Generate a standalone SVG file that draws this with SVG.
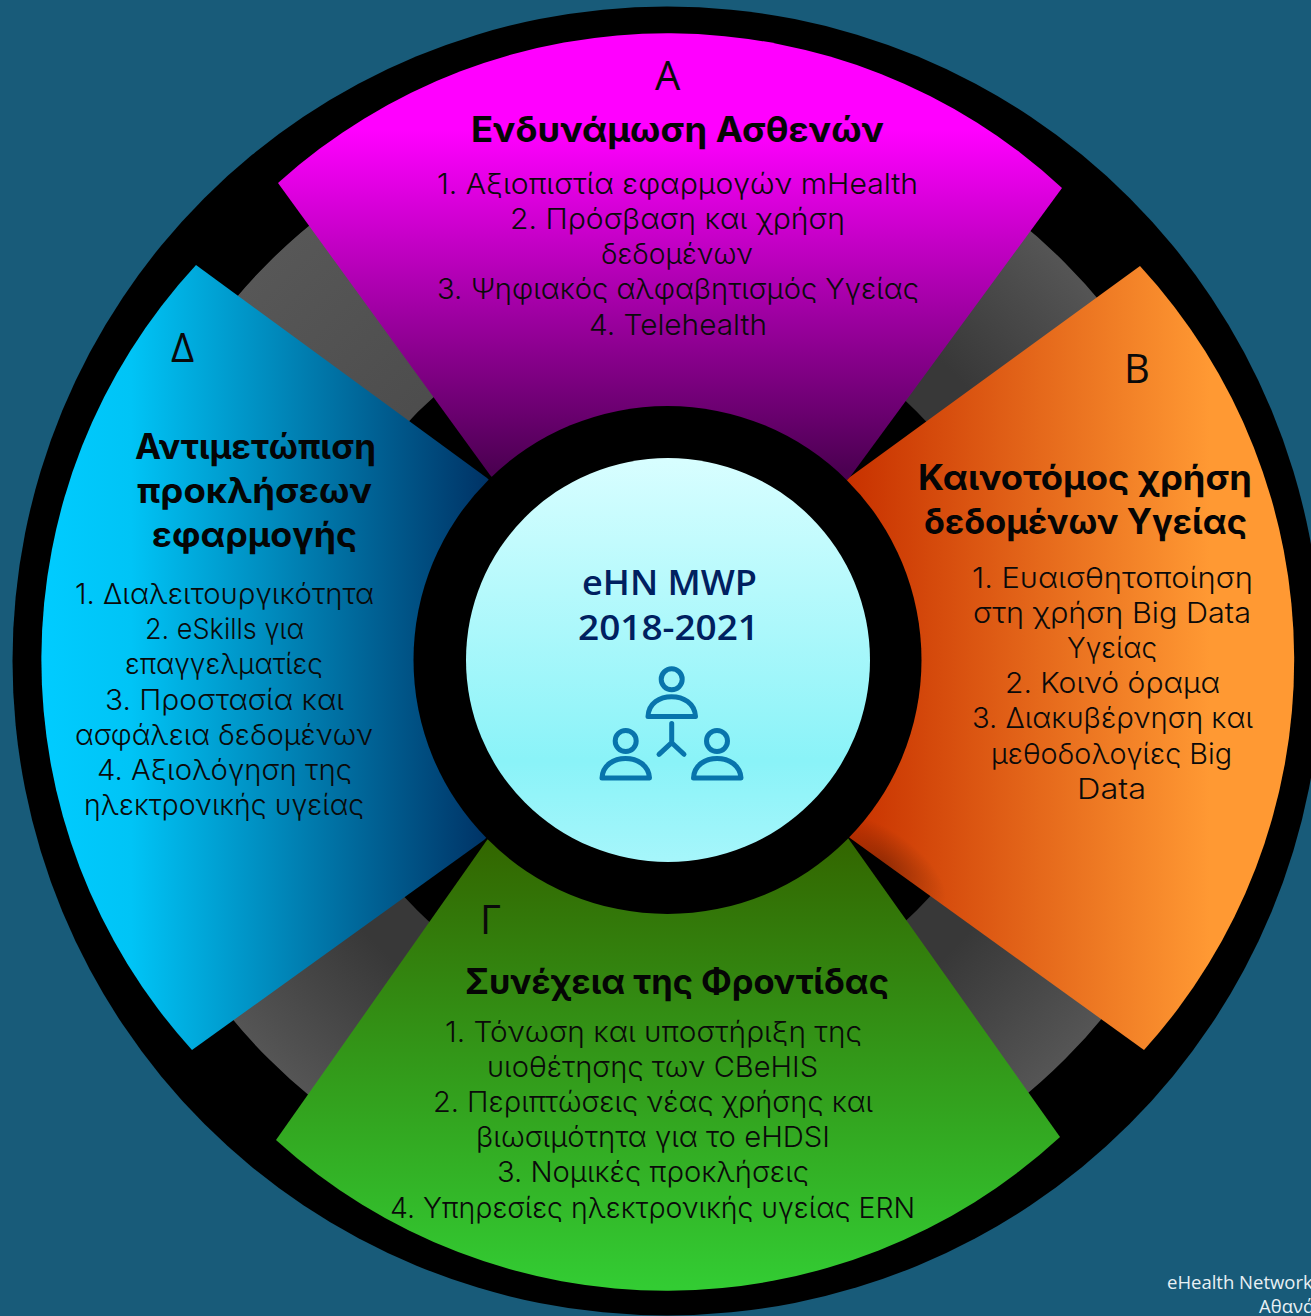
<svg xmlns="http://www.w3.org/2000/svg" width="1311" height="1316" viewBox="0 0 1311 1316">
<style>
.li{font-family:Inter,"Noto Sans",sans-serif;font-weight:300;font-size:29px;fill:#0a0a0a}
.ti{font-family:Inter,"Noto Sans",sans-serif;font-weight:700;font-size:35px;fill:#050505}
.let{font-family:"Open Sans","Noto Sans",sans-serif;font-size:40px;fill:#0a0a0a}
.ce{font-family:"Open Sans","Noto Sans",sans-serif;font-weight:600;font-size:35px;fill:#002060}
.ft{font-family:"Open Sans","Noto Sans",sans-serif;font-size:18.500px;fill:#e8f0f4}
.ic{fill:none;stroke:#0874ac;stroke-width:5;stroke-linecap:round;stroke-linejoin:round}
</style>
<defs>
<linearGradient id="gP" gradientUnits="userSpaceOnUse" x1="0" y1="130" x2="0" y2="470"><stop offset="0" stop-color="#ff00ff"/><stop offset="1" stop-color="#4c0052"/></linearGradient>
<linearGradient id="gO" gradientUnits="userSpaceOnUse" x1="850" y1="0" x2="1210" y2="0"><stop offset="0" stop-color="#c83200"/><stop offset="1" stop-color="#ff9933"/></linearGradient>
<linearGradient id="gG" gradientUnits="userSpaceOnUse" x1="0" y1="1287" x2="0" y2="840"><stop offset="0" stop-color="#33cc33"/><stop offset="1" stop-color="#336600"/></linearGradient>
<linearGradient id="gB" gradientUnits="userSpaceOnUse" x1="42" y1="0" x2="487" y2="0"><stop offset="0" stop-color="#00ccff"/><stop offset="0.2" stop-color="#00c4f6"/><stop offset="1" stop-color="#003366"/></linearGradient>
<linearGradient id="gC" x1="0" y1="0" x2="0" y2="1"><stop offset="0" stop-color="#d8feff"/><stop offset="0.75" stop-color="#8af3f8"/><stop offset="1" stop-color="#a6f6fb"/></linearGradient>
<radialGradient id="gR" gradientUnits="userSpaceOnUse" cx="667" cy="661" r="563"><stop offset="0.72" stop-color="#383838"/><stop offset="1" stop-color="#555555"/></radialGradient>
<radialGradient id="gT" gradientUnits="userSpaceOnUse" cx="667" cy="661" r="563"><stop offset="0.6" stop-color="#4c4c4c"/><stop offset="1" stop-color="#575757"/></radialGradient>
<radialGradient id="gS" gradientUnits="userSpaceOnUse" cx="0" cy="0" r="1" gradientTransform="translate(885 864) rotate(36) scale(72 32)"><stop offset="0" stop-color="#000" stop-opacity="0.28"/><stop offset="1" stop-color="#000" stop-opacity="0"/></radialGradient>
</defs>
<rect width="1311" height="1316" fill="#185b79"/>
<g id="ring">
<circle cx="667" cy="661" r="654.500" fill="#000"/>
<circle cx="667" cy="661" r="458" fill="none" stroke="url(#gR)" stroke-width="210"/>
<path d="M179 379A563 563 0 0 1 385.500 173L491 356A353 353 0 0 0 362 485Z" fill="url(#gT)"/>
</g>
<g id="connectors"/>
<g id="sector-a">
<path d="M278 183A581 581 0 0 1 1062 188L850 477L667 660L490 475Z" fill="url(#gP)"/>
</g>
<g id="sector-b">
<path d="M1140 266A581 581 0 0 1 1144 1050L850 838L667 660L850 477Z" fill="url(#gO)"/>
<path d="M1140 266A581 581 0 0 1 1144 1050L850 838L667 660L850 477Z" fill="url(#gS)"/>
</g>
<g id="sector-c">
<path d="M276 1140L487 840L667 660L848 838L1060 1137A581 581 0 0 1 276 1140Z" fill="url(#gG)"/>
</g>
<g id="sector-d">
<path d="M196 265L487 478L667 660L484 840L192 1050A581 581 0 0 1 196 265Z" fill="url(#gB)"/>
</g>
<g id="hub">
<circle cx="667.500" cy="660" r="254" fill="#000"/>
<circle cx="668" cy="660" r="202" fill="url(#gC)"/>
<text class="ce" x="582" y="595" textLength="175" lengthAdjust="spacingAndGlyphs">eHN MWP</text>
<text class="ce" x="578" y="640" textLength="181" lengthAdjust="spacingAndGlyphs">2018-2021</text>
<g class="ic">
<circle cx="671.700" cy="679.300" r="10.500"/>
<path d="M648 716.500C649 690 694 690 695.500 716.500Z"/>
<circle cx="625.700" cy="741" r="10.500"/>
<path d="M602 778C603 752 648 752 649.500 778Z"/>
<circle cx="717" cy="741" r="10.500"/>
<path d="M693.500 778C694.500 752 739.500 752 741 778Z"/>
<path d="M671.700 723.500V742.700M659 754.300L671.700 742.700L684 754.300"/>
</g>
</g>
<g id="text-a">
<text class="let" x="655" y="90">Α</text>
<text class="ti" x="471" y="142" textLength="413" lengthAdjust="spacingAndGlyphs">Ενδυνάμωση Ασθενών</text>
<text class="li" x="437" y="194" textLength="481" lengthAdjust="spacingAndGlyphs">1. Αξιοπιστία εφαρμογών mHealth</text>
<text class="li" x="510" y="229" textLength="335" lengthAdjust="spacingAndGlyphs">2. Πρόσβαση και χρήση</text>
<text class="li" x="601" y="264" textLength="152" lengthAdjust="spacingAndGlyphs">δεδομένων</text>
<text class="li" x="437" y="299" textLength="482" lengthAdjust="spacingAndGlyphs">3. Ψηφιακός αλφαβητισμός Υγείας</text>
<text class="li" x="589" y="335" textLength="178" lengthAdjust="spacingAndGlyphs">4. Telehealth</text>
</g>
<g id="text-b">
<text class="let" x="1124" y="383">Β</text>
<text class="ti" x="918" y="490" textLength="334" lengthAdjust="spacingAndGlyphs">Καινοτόμος χρήση</text>
<text class="ti" x="924" y="534" textLength="323" lengthAdjust="spacingAndGlyphs">δεδομένων Υγείας</text>
<text class="li" x="972" y="588" textLength="281" lengthAdjust="spacingAndGlyphs">1. Ευαισθητοποίηση</text>
<text class="li" x="973" y="623" textLength="278" lengthAdjust="spacingAndGlyphs">στη χρήση Big Data</text>
<text class="li" x="1067" y="658" textLength="90" lengthAdjust="spacingAndGlyphs">Υγείας</text>
<text class="li" x="1005" y="693" textLength="215" lengthAdjust="spacingAndGlyphs">2. Κοινό όραμα</text>
<text class="li" x="972" y="728" textLength="281" lengthAdjust="spacingAndGlyphs">3. Διακυβέρνηση και</text>
<text class="li" x="991" y="764" textLength="241" lengthAdjust="spacingAndGlyphs">μεθοδολογίες Big</text>
<text class="li" x="1077" y="799" textLength="69" lengthAdjust="spacingAndGlyphs">Data</text>
</g>
<g id="text-c">
<text class="let" x="480" y="934">Γ</text>
<text class="ti" x="465" y="994" textLength="424" lengthAdjust="spacingAndGlyphs">Συνέχεια της Φροντίδας</text>
<text class="li" x="445" y="1042" textLength="417" lengthAdjust="spacingAndGlyphs">1. Τόνωση και υποστήριξη της</text>
<text class="li" x="487" y="1077" textLength="331" lengthAdjust="spacingAndGlyphs">υιοθέτησης των CBeHIS</text>
<text class="li" x="433" y="1112" textLength="440" lengthAdjust="spacingAndGlyphs">2. Περιπτώσεις νέας χρήσης και</text>
<text class="li" x="476" y="1147" textLength="354" lengthAdjust="spacingAndGlyphs">βιωσιμότητα για το eHDSI</text>
<text class="li" x="497" y="1182" textLength="312" lengthAdjust="spacingAndGlyphs">3. Νομικές προκλήσεις</text>
<text class="li" x="390" y="1218" textLength="525" lengthAdjust="spacingAndGlyphs">4. Υπηρεσίες ηλεκτρονικής υγείας ERN</text>
</g>
<g id="text-d">
<text class="let" x="171" y="362">Δ</text>
<text class="ti" x="135" y="459" textLength="241" lengthAdjust="spacingAndGlyphs">Αντιμετώπιση</text>
<text class="ti" x="137" y="503" textLength="235" lengthAdjust="spacingAndGlyphs">προκλήσεων</text>
<text class="ti" x="152" y="547" textLength="205" lengthAdjust="spacingAndGlyphs">εφαρμογής</text>
<text class="li" x="75" y="604" textLength="299" lengthAdjust="spacingAndGlyphs">1. Διαλειτουργικότητα</text>
<text class="li" x="145" y="639" textLength="159" lengthAdjust="spacingAndGlyphs">2. eSkills για</text>
<text class="li" x="125" y="674" textLength="198" lengthAdjust="spacingAndGlyphs">επαγγελματίες</text>
<text class="li" x="105" y="710" textLength="239" lengthAdjust="spacingAndGlyphs">3. Προστασία και</text>
<text class="li" x="75" y="745" textLength="298" lengthAdjust="spacingAndGlyphs">ασφάλεια δεδομένων</text>
<text class="li" x="97" y="780" textLength="255" lengthAdjust="spacingAndGlyphs">4. Αξιολόγηση της</text>
<text class="li" x="84" y="815" textLength="280" lengthAdjust="spacingAndGlyphs">ηλεκτρονικής υγείας</text>
</g>
<g id="footer">
<text class="ft" x="1167" y="1289">eHealth Network</text>
<text class="ft" x="1259" y="1313">Αθανά</text>
</g>
</svg>
